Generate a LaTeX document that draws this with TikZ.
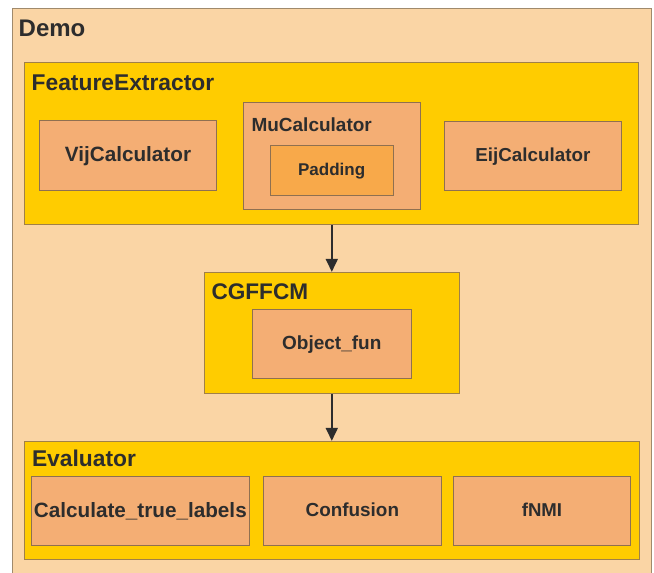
\documentclass[tikz,border=0pt]{standalone}
\usepackage{fontspec}
\setmainfont{Liberation Sans}
\usetikzlibrary{arrows.meta}
\definecolor{demofill}{HTML}{FAD5A5}
\definecolor{demoedge}{HTML}{A08A6C}
\definecolor{pkgfill}{HTML}{FFCC00}
\definecolor{pkgedge}{HTML}{A08048}
\definecolor{modfill}{HTML}{F4AE74}
\definecolor{modedge}{HTML}{8F7050}
\definecolor{subfill}{HTML}{F8A94A}
\definecolor{ink}{HTML}{2D2D2D}
\tikzset{
  fs/.style={font=\fontsize{#1}{#1}\selectfont\bfseries},
  title/.style={fs=#1, anchor=base west, inner sep=0pt, text=ink},
  outerbox/.style={draw=demoedge, fill=demofill, line width=1pt, inner sep=0pt},
  pkgbox/.style={draw=pkgedge, fill=pkgfill, line width=0.9pt, inner sep=0pt},
  modbox/.style={draw=modedge, fill=modfill, line width=0.9pt, inner sep=0pt,
    text=ink, fs=#1, text height=0.716*#1pt, text depth=2pt},
  subbox/.style={modbox=#1, fill=subfill},
  flow/.style={draw=ink, line width=1.8pt, -{Triangle[length=13pt,width=12pt]}},
}
\begin{document}
\begin{tikzpicture}[x=1pt, y=-1pt]
  \useasboundingbox (0,0) rectangle (654,573);
  \clip (0,0) rectangle (654,573);
  \fill[white] (0,0) rectangle (654,573);

  % top-level container
  \node[outerbox, minimum width=639.5pt, minimum height=582pt] (demo) at (331.75,299) {};
  \node[title=24] (demot) at (18.5,36.7) {Demo};

  % feature extraction stage
  \node[pkgbox, minimum width=614pt, minimum height=162.5pt] (fe) at (331.8,143.25) {};
  \node[title=22.8] (fet) at (31.5,90) {FeatureExtractor};
  \node[modbox=20.7, minimum width=177.4pt, minimum height=69.3pt] (vij) at (128,155.35) {VijCalculator};
  \node[modbox=19, minimum width=177pt, minimum height=106.7pt] (mu) at (331.8,155.65) {};
  \node[title=19] (mut) at (251.3,131.7) {MuCalculator};
  \node[subbox=17, minimum width=123.3pt, minimum height=50pt] (pad) at (331.65,170.3) {Padding};
  \node[modbox=18.8, minimum width=177.7pt, minimum height=69pt] (eij) at (532.85,155.8) {EijCalculator};

  % clustering stage
  \node[pkgbox, minimum width=255pt, minimum height=121pt] (cg) at (331.8,332.8) {};
  \node[title=22.6] (cgt) at (211.3,299.3) {CGFFCM};
  \node[modbox=19, minimum width=159pt, minimum height=69pt] (obj) at (331.8,343.8) {Object\_fun};

  % evaluation stage
  \node[pkgbox, minimum width=614.4pt, minimum height=118pt] (ev) at (331.8,500.3) {};
  \node[title=22.8] (evt) at (31.8,466.7) {Evaluator};
  \node[modbox=20.7, minimum width=218.7pt, minimum height=69.4pt] (calc) at (140.35,511) {Calculate\_true\_labels};
  \node[modbox=18.9, minimum width=177.3pt, minimum height=69.3pt] (conf) at (352.35,510.65) {Confusion};
  \node[modbox=18.6, minimum width=177.4pt, minimum height=69.4pt] (nmi) at (542,511) {fNMI};

  % data flow
  \draw[flow] (fe.south) -- (cg.north);
  \draw[flow] (cg.south) -- (ev.north);
\end{tikzpicture}
\end{document}
